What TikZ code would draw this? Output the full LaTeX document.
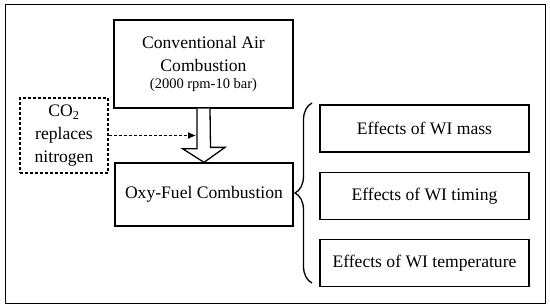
\documentclass[tikz,border=0pt]{standalone}
\usepackage{fontspec}
\setmainfont{Liberation Serif}
\usetikzlibrary{arrows.meta, positioning, calc, decorations.pathreplacing}
\tikzstyle{block} = [rectangle, draw, line width=1.3pt, align=center, inner sep=0pt, font=\fontsize{17.6}{23}\selectfont]
\tikzstyle{effect} = [block, minimum width=209pt, minimum height=47pt]
\tikzstyle{gasbox} = [block, densely dashed, minimum width=88pt, minimum height=75pt]
\tikzstyle{arrow} = [densely dashed, line width=1.1pt, -{Latex[length=8pt,width=7pt]}]

\begin{document}
\begin{tikzpicture}[x=1pt, y=-1pt]
  \useasboundingbox (0,0) rectangle (550,308);
  \node[draw, line width=1.3pt, minimum width=540pt, minimum height=299pt, anchor=north west, inner sep=0pt] (frame) at (5,4) {};
  \node[block, minimum width=179pt, minimum height=88pt] (conv) at (203.5,64)
    {Conventional Air\\Combustion\\[-6pt]{\fontsize{14.5}{16}\selectfont (2000 rpm-10 bar)}};
  \node[block, minimum width=178pt, minimum height=63pt] (oxy) at (204,194.5) {Oxy-Fuel Combustion};
  \node[gasbox] (co2) at (64,135.5) {CO\textsubscript{2}\\replaces\\nitrogen};
  \node[effect] (mass) at (424.5,128.5) {Effects of WI mass};
  \node[effect, below=19pt of mass] (timing) {Effects of WI timing};
  \node[effect, below=19pt of timing] (temp) {Effects of WI temperature};
  % hollow block arrow
  \draw[line width=1.3pt, fill=white] ($(conv.south)+(-6.5,0)$) -- ++(0,40) -- ++(-14.5,0)
    -- (oxy.north) -- ++(21,-15) -- ++(-14.5,0) -- ($(conv.south)+(6.5,0)$);
  \coordinate (inlet) at (196,135.5);
  \draw[arrow] (co2) -- (inlet);
  % brace
  \coordinate (bt) at (312,103);
  \coordinate (bb) at (312,283);
  \draw[line width=1.3pt, decorate, decoration={brace, amplitude=17pt}] (bb) -- (bt);
\end{tikzpicture}
\end{document}
